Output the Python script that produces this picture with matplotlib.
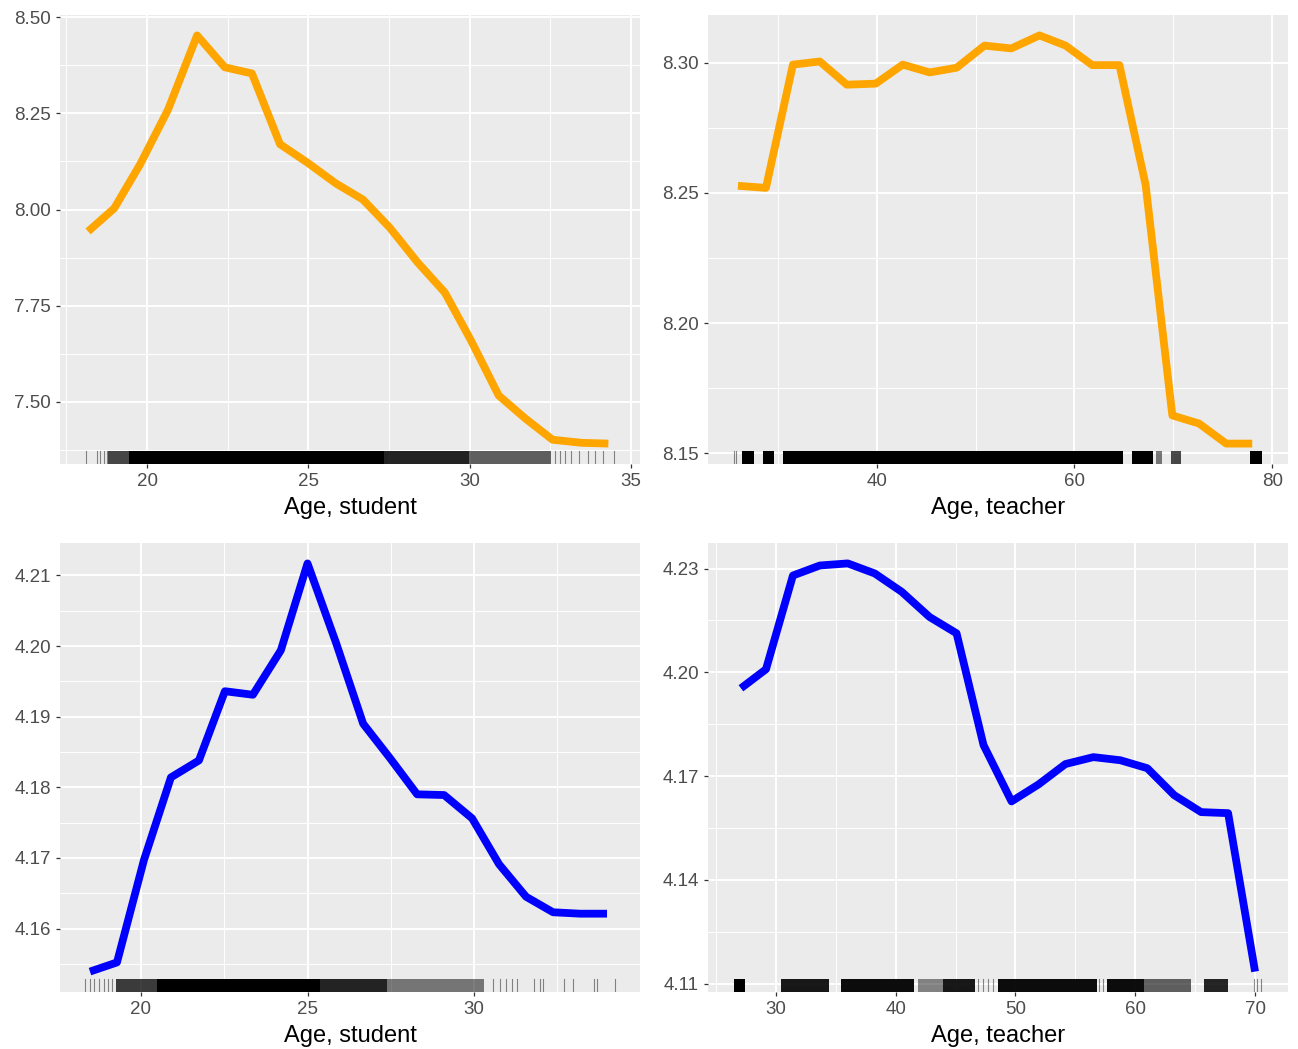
import matplotlib
matplotlib.use("Agg")
import matplotlib.pyplot as plt
from matplotlib.ticker import MultipleLocator, AutoMinorLocator, FormatStrFormatter

plt.rcParams['font.family'] = ['Liberation Sans', 'DejaVu Sans']

# partial dependence values
stud_age_1 = [18.17, 18.98, 19.78, 20.65, 21.55, 22.41, 23.25, 24.12, 24.97, 25.85,
              26.69, 27.52, 28.39, 29.23, 30.03, 30.90, 31.73, 32.57, 33.47, 34.30]
stud_pd_1 = [7.943, 8.003, 8.117, 8.260, 8.453, 8.370, 8.354, 8.170, 8.122, 8.068,
             8.026, 7.953, 7.862, 7.784, 7.661, 7.516, 7.456, 7.401, 7.393, 7.391]

teach_age_1 = [25.96, 28.79, 31.52, 34.24, 36.97, 39.90, 42.63, 45.35, 48.08, 50.90,
               53.60, 56.46, 59.10, 61.80, 64.55, 67.20, 69.90, 72.60, 75.35, 77.98]
teach_pd_1 = [8.2527, 8.2519, 8.2992, 8.3004, 8.2915, 8.2919, 8.2992, 8.2962, 8.2980, 8.3065,
              8.3054, 8.3104, 8.3065, 8.2990, 8.2990, 8.2530, 8.1646, 8.1615, 8.1538, 8.1538]

stud_age_2 = [18.47, 19.28, 20.09, 20.90, 21.74, 22.52, 23.36, 24.20, 25.00, 25.86,
              26.67, 27.48, 28.29, 29.10, 29.94, 30.75, 31.56, 32.37, 33.18, 33.99]
stud_pd_2 = [4.1539, 4.1552, 4.1697, 4.1814, 4.1838, 4.1936, 4.1931, 4.1994, 4.2117, 4.2004,
             4.1890, 4.1841, 4.1790, 4.1789, 4.1756, 4.1691, 4.1645, 4.1623, 4.1621, 4.1621]

teach_age_2 = [27.08, 29.17, 31.42, 33.67, 36.00, 38.25, 40.50, 42.83, 45.08, 47.33,
               49.67, 51.92, 54.17, 56.50, 58.75, 61.00, 63.25, 65.50, 67.75, 70.00]
teach_pd_2 = [4.1954, 4.2009, 4.2280, 4.2309, 4.2315, 4.2286, 4.2233, 4.2160, 4.2113, 4.1790,
              4.1627, 4.1676, 4.1735, 4.1755, 4.1746, 4.1723, 4.1645, 4.1596, 4.1593, 4.1135]

# rug: dense stretches of observed ages (lo, hi, shade) and sparse single observations
rug_bands_1 = [(18.80, 19.44, 0.7), (19.44, 27.33, 1.0), (27.33, 29.98, 0.85), (29.98, 32.51, 0.6)]
rug_ticks_1 = [18.11, 18.45, 18.55, 18.65, 18.75, 32.63, 32.80, 32.97, 33.15, 33.38,
               33.66, 33.89, 34.12, 34.47]

rug_bands_2 = [(26.4, 27.6, 1.0), (28.5, 29.6, 1.0), (30.5, 64.9, 1.0), (65.8, 67.9, 1.0),
               (68.2, 68.9, 0.5), (69.8, 70.8, 0.7), (77.8, 79.0, 1.0)]
rug_ticks_2 = [25.54, 25.80]

rug_bands_3 = [(19.24, 20.47, 0.75), (20.47, 25.38, 1.0), (25.38, 27.39, 0.85), (27.39, 30.29, 0.5)]
rug_ticks_3 = [18.33, 18.46, 18.60, 18.74, 18.89, 19.00, 19.13, 30.57, 30.79, 30.96,
               31.13, 31.30, 31.80, 31.97, 32.08, 32.69, 32.97, 33.59, 33.70, 34.22]

rug_bands_4 = [(26.47, 27.39, 1.0), (30.43, 34.39, 0.9), (35.46, 41.55, 0.95), (41.86, 43.98, 0.45),
               (43.98, 46.58, 0.9), (48.55, 56.78, 0.95), (57.68, 60.73, 0.95), (60.73, 64.69, 0.6),
               (65.76, 67.73, 0.85)]
rug_ticks_4 = [46.9, 47.3, 47.7, 48.1, 57.0, 57.3, 69.87, 70.2, 70.53]

panels = [
    (stud_age_1, stud_pd_1, rug_bands_1, rug_ticks_1, "orange", "Age, student", 5, 0.25, (17.30, 35.28), (60, 15)),
    (teach_age_1, teach_pd_1, rug_bands_2, rug_ticks_2, "orange", "Age, teacher", 20, 0.05, (22.93, 81.60), (708, 15)),
    (stud_age_2, stud_pd_2, rug_bands_3, rug_ticks_3, "blue", "Age, student", 5, 0.01, (17.57, 34.98), (60, 543)),
    (teach_age_2, teach_pd_2, rug_bands_4, rug_ticks_4, "blue", "Age, teacher", 10, 0.03, (24.33, 72.75), (708, 543)),
]

W, H = 1298, 1049
fig = plt.figure(figsize=(W / 100, H / 100), dpi=100)
pw, ph = 580, 449

for x, y, bands, ticks, col, xlabel, xstep, ystep, xlim, (px, py) in panels:
    ax = fig.add_axes([px / W, (H - py - ph) / H, pw / W, ph / H])
    ax.set_facecolor("#EBEBEB")
    for s in ax.spines.values():
        s.set_visible(False)

    ax.plot(x, y, color=col, lw=5.6, solid_capstyle="butt", solid_joinstyle="round", zorder=3)
    for lo, hi, a in bands:
        ax.axvspan(lo, hi, ymin=0, ymax=0.03, color="black", alpha=a, lw=0, zorder=2)
    for t in ticks:
        ax.axvline(t, ymin=0, ymax=0.03, color="black", alpha=0.45, lw=0.8, zorder=2)

    ax.margins(y=0.05)
    ax.set_xlim(*xlim)
    ax.xaxis.set_major_locator(MultipleLocator(xstep))
    ax.yaxis.set_major_locator(MultipleLocator(ystep))
    ax.xaxis.set_minor_locator(AutoMinorLocator(2))
    ax.yaxis.set_minor_locator(AutoMinorLocator(2))
    ax.yaxis.set_major_formatter(FormatStrFormatter("%.2f"))
    ax.xaxis.set_major_formatter(FormatStrFormatter("%d"))

    ax.set_axisbelow(True)
    ax.grid(which="major", color="white", lw=1.4)
    ax.grid(which="minor", color="white", lw=0.7)
    ax.tick_params(which="major", direction="out", length=3, width=0.9, color="#333333",
                   labelcolor="#4D4D4D", labelsize=13.5, pad=3.5)
    ax.tick_params(which="minor", length=0)
    ax.set_xlabel(xlabel, fontsize=17, color="black", labelpad=5)

fig.savefig("out.png", dpi=100)
